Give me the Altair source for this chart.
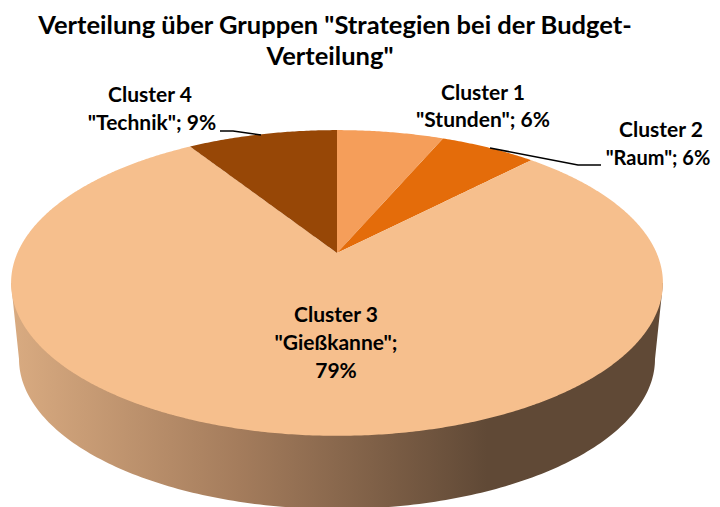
import math
import altair as alt
import pandas as pd

# ---- values
categories = ["Cluster 1", "Cluster 2", "Cluster 3", "Cluster 4"]
shares = [6.4, 5.8, 78.8, 9.0]
slice_colors = ["#F59E5A", "#E46C0A", "#F6BF8D", "#974706"]

title_lines = ['Verteilung über Gruppen "Strategien bei der Budget-', 'Verteilung"']
label_texts = ["Cluster 1", '"Stunden"; 6%', "Cluster 2", '"Raum"; 6%',
               "Cluster 3", '"Gießkanne";', "79%", "Cluster 4", '"Technik"; 9%']
label_x = [483, 483, 661, 658, 336, 336, 336, 150, 152]
label_y = [94, 121, 131, 159, 316, 344, 372, 96, 124]
label_size = [21, 21, 21, 20, 21, 21, 21, 21, 21]

leader_x = [[490, 578, 601], [220, 233, 261]]
leader_y = [[148, 165, 165], [131, 131, 135]]

# ---- the tilted disc: centre, radii and perspective of the picture
cx, cy, rx, ry, k = 337, 253, 319.6, 147, 0.196
wall_cy, wall_rx, wall_ry = 359, 318, 150
wall_stops = [(0.0, "#D9AB81"), (0.35, "#A47C5C"), (0.73, "#604936"), (1.0, "#604936")]


def rim(deg):
    t = math.radians(deg)
    X, Y = math.sin(t), math.cos(t)
    d = 1 + k * Y
    return cx + rx * X / d, cy - ry * Y / d


def columns(poly):
    """Turn a closed outline into x / y / y2 rows for an area mark."""
    xs = sorted({round(p[0], 2) for p in poly})
    rows = []
    n = len(poly)
    for x in xs:
        hits = []
        for i in range(n):
            (x0, y0), (x1, y1) = poly[i], poly[(i + 1) % n]
            x0, x1 = round(x0, 2), round(x1, 2)
            if min(x0, x1) <= x <= max(x0, x1):
                if x0 == x1:
                    hits += [y0, y1]
                else:
                    hits.append(y0 + (y1 - y0) * (x - x0) / (x1 - x0))
        if hits:
            rows.append({"x": x, "y": min(hits), "y2": max(hits)})
    return pd.DataFrame(rows)


X_SCALE = alt.Scale(domain=[8, 712], range=[0, 704], nice=False, zero=False)
Y_SCALE = alt.Scale(domain=[8, 507], range=[0, 499], nice=False, zero=False)
xe = alt.X("x:Q", scale=X_SCALE, axis=None)
ye = alt.Y("y:Q", scale=Y_SCALE, axis=None)

layers = []

# side wall
wall = [(11, 283)]
for i in range(0, 181):
    a = math.radians(i)
    wall.append((337 - wall_rx * math.cos(a), wall_cy + wall_ry * math.sin(a)))
wall.append((663, 283))
layers.append(
    alt.Chart(columns(wall)).mark_area(
        orient="vertical",
        color=alt.Gradient(
            gradient="linear", x1=0, x2=1, y1=0, y2=0,
            stops=[alt.GradientStop(offset=o, color=c) for o, c in wall_stops],
        ),
    ).encode(x=xe, y=ye, y2="y2:Q")
)

# top face, one area per slice
start = 0.0
for name, share, color in zip(categories, shares, slice_colors):
    end = start + share * 3.6
    steps = max(2, int((end - start) * 2))
    outline = [(cx, cy)] + [rim(start + (end - start) * i / steps) for i in range(steps + 1)]
    layers.append(
        alt.Chart(columns(outline)).mark_area(orient="vertical", color=color, interpolate="linear")
        .encode(x=xe, y=ye, y2="y2:Q")
    )
    start = end

# leader lines
for lx, ly in zip(leader_x, leader_y):
    layers.append(
        alt.Chart(pd.DataFrame({"x": lx, "y": ly, "o": range(len(lx))}))
        .mark_line(color="#000000", strokeWidth=1.5)
        .encode(x=xe, y=ye, order="o:Q")
    )

# labels
layers.append(
    alt.Chart(pd.DataFrame({"x": label_x, "y": label_y, "t": label_texts, "s": label_size}))
    .mark_text(font="Lato", fontWeight="bold", color="#000000", align="center", baseline="middle")
    .encode(x=xe, y=ye, text="t:N", size=alt.Size("s:Q", scale=None, legend=None))
)

# title
layers.append(
    alt.Chart(pd.DataFrame({"x": [335, 330], "y": [26, 57], "t": title_lines}))
    .mark_text(font="Lato", fontWeight="bold", fontSize=25.5, color="#000000", align="center", baseline="middle")
    .encode(x=xe, y=ye, text="t:N")
)

chart = (
    alt.layer(*layers)
    .properties(width=704, height=499, padding=0, autosize=alt.AutoSizeParams(type="none"))
    .configure_view(strokeWidth=0)
)
chart.save("out.html", embed_options={"renderer": "svg", "actions": False})
